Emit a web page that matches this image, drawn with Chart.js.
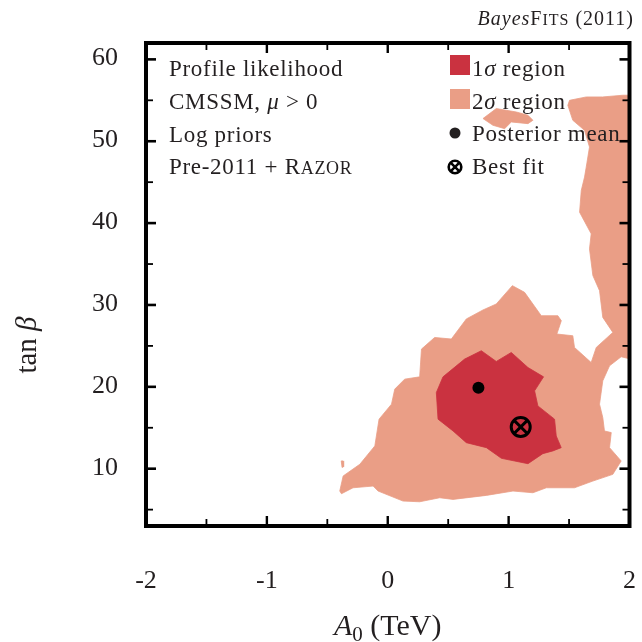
<!DOCTYPE html>
<html><head><meta charset="utf-8">
<script src="https://cdn.jsdelivr.net/npm/chart.js@4.4.0/dist/chart.umd.min.js"></script>
<style>html,body{margin:0;padding:0;background:#fff}#wrap{width:642px;height:642px}</style>
</head><body><div id="wrap"><canvas id="c" width="642" height="642"></canvas></div>
<script>
// ---- axis ticks ----
const xTickValues = [-2, -1, 0, 1, 2];
const xTickLabels = ['-2', '-1', '0', '1', '2'];
const xMinorTicks = [-1.5, -0.5, 0.5, 1.5];
const yTickValues = [10, 20, 30, 40, 50, 60];
const yTickLabels = ['10', '20', '30', '40', '50', '60'];
const yMinorTicks = [5, 15, 25, 35, 45, 55];

// ---- contour regions [A0 (TeV), tan beta] ----
const sigma2Main = [
  [-0.383,6.94],[-0.397,7.27],[-0.369,9.11],[-0.231,10.54],[-0.107,12.78],[-0.072,16.05],
  [0.031,17.88],[0.058,19.72],[0.140,20.94],[0.264,21.22],[0.279,24.61],[0.388,26.03],
  [0.526,25.84],[0.650,28.29],[0.788,29.39],[0.898,30.12],[1.031,32.36],[1.132,31.54],
  [1.270,28.69],[1.407,28.69],[1.436,28.08],[1.399,26.45],[1.531,26.24],[1.545,24.81],
  [1.683,22.97],[1.725,24.81],[1.862,26.65],[1.779,28.48],[1.752,31.75],[1.697,33.59],
  [1.669,36.85],[1.683,38.69],[1.587,41.33],[1.601,43.99],[1.628,45.62],[1.642,46.84],
  [1.669,49.29],[1.628,51.33],[1.531,52.56],[1.490,54.39],[1.504,55.00],[1.642,55.41],
  [1.777,55.41],[1.945,55.62],[2.000,55.62],[2.000,23.43],[1.931,23.67],[1.835,22.57],
  [1.779,20.73],[1.752,17.88],[1.779,16.24],[1.793,14.61],[1.849,14.41],[1.835,12.57],
  [1.931,10.94],[1.862,9.31],[1.697,8.49],[1.545,7.67],[1.312,7.67],[1.201,7.06],
  [1.036,7.27],[0.816,6.74],[0.540,6.25],[0.430,6.45],[0.264,5.96],[0.126,6.05],
  [-0.080,7.27],[-0.121,7.88],[-0.287,7.67],[-0.383,6.94]
];
const sigma2Island = [
  [0.788,52.77],[0.898,53.99],[1.064,53.57],[1.160,53.17],[1.201,52.56],[1.160,52.15],
  [1.022,52.35],[0.967,51.54],[0.870,51.95],[0.788,52.77]
];
const sigma2Sliver = [
  [-0.385,10.95],[-0.370,10.95],[-0.365,10.25],[-0.378,10.15],[-0.385,10.95]
];
const sigma1Region = [
  [0.774,24.41],[0.898,23.10],[1.022,24.20],[1.160,22.36],[1.289,21.22],[1.215,19.51],
  [1.242,17.67],[1.380,16.05],[1.394,14.00],[1.435,12.57],[1.366,12.17],[1.283,11.84],
  [1.160,10.61],[0.940,11.27],[0.816,12.57],[0.650,13.18],[0.540,14.61],[0.416,16.05],
  [0.402,19.30],[0.457,21.22],[0.636,23.39],[0.774,24.41]
];
const posteriorMean = [[0.75, 19.9]];
const bestFit = [[1.10, 15.1]];

const SIGMA1 = '#CA3240';
const SIGMA2 = '#EA9E86';
const INK = '#231F20';
const F = '"Liberation Serif", "Times New Roman", serif';
const toPts = a => a.map(([x, y]) => ({x, y}));

function region(label, arr, color) {
  return {label, data: toPts(arr), showLine: true, fill: 'shape', tension: 0,
    backgroundColor: color, borderColor: color, borderWidth: 0.8, pointRadius: 0};
}

function drawRuns(ctx, x, y, runs) {
  for (const r of runs) {
    ctx.font = r.font;
    ctx.fillText(r.text, x, y + (r.dy || 0));
    x += ctx.measureText(r.text).width;
  }
}
function runsWidth(ctx, runs) {
  let w = 0;
  for (const r of runs) { ctx.font = r.font; w += ctx.measureText(r.text).width; }
  return w;
}

const decorPlugin = {
  id: 'decor',
  afterDraw(chart) {
    const ctx = chart.ctx;
    const {left, right, top, bottom} = chart.chartArea;
    const xs = chart.scales.x, ys = chart.scales.y;
    ctx.save();
    ctx.strokeStyle = '#000';
    ctx.lineCap = 'butt';
    // ticks (inward, all four sides)
    const tick = (x1, y1, x2, y2, w) => { ctx.lineWidth = w; ctx.beginPath(); ctx.moveTo(x1, y1); ctx.lineTo(x2, y2); ctx.stroke(); };
    xTickValues.forEach(v => { const p = xs.getPixelForValue(v); if (p > left + 2 && p < right - 2) { tick(p, bottom, p, bottom - 10, 2.4); tick(p, top, p, top + 10, 2.4); } });
    xMinorTicks.forEach(v => { const p = xs.getPixelForValue(v); tick(p, bottom, p, bottom - 7, 1.8); tick(p, top, p, top + 7, 1.8); });
    yTickValues.forEach(v => { const p = ys.getPixelForValue(v); tick(left, p, left + 10, p, 2.6); tick(right, p, right - 10, p, 2.6); });
    yMinorTicks.forEach(v => { const p = ys.getPixelForValue(v); tick(left, p, left + 7, p, 1.8); tick(right, p, right - 7, p, 1.8); });
    // frame
    ctx.lineWidth = 4;
    ctx.strokeRect(left, top, right - left, bottom - top);

    ctx.fillStyle = INK;
    ctx.textAlign = 'left';
    ctx.textBaseline = 'alphabetic';
    ctx.letterSpacing = '0.7px';
    // info block
    const fs = 23;
    const n = `${fs}px ${F}`, it = `italic ${fs}px ${F}`, sc = `${Math.round(fs * 0.78)}px ${F}`;
    drawRuns(ctx, left + 23, 76, [{text: 'Profile likelihood', font: n}]);
    drawRuns(ctx, left + 23, 109, [{text: 'CMSSM, ', font: n}, {text: 'μ', font: it}, {text: ' > 0', font: n}]);
    drawRuns(ctx, left + 23, 142, [{text: 'Log priors', font: n}]);
    drawRuns(ctx, left + 23, 174, [{text: 'Pre-2011 + ', font: n}, {text: 'R', font: n}, {text: 'AZOR', font: sc}]);

    // legend
    const lx = 450, tx = 472;
    ctx.fillStyle = SIGMA1; ctx.fillRect(lx, 55, 20, 20);
    ctx.fillStyle = SIGMA2; ctx.fillRect(lx, 89, 20, 20);
    ctx.fillStyle = INK;
    drawRuns(ctx, tx, 76, [{text: '1', font: n}, {text: 'σ', font: it}, {text: ' region', font: n}]);
    drawRuns(ctx, tx, 109, [{text: '2', font: n}, {text: 'σ', font: it}, {text: ' region', font: n}]);
    ctx.beginPath(); ctx.arc(lx + 5, 133, 5.5, 0, Math.PI * 2); ctx.fill();
    drawRuns(ctx, tx, 141, [{text: 'Posterior mean', font: n}]);
    ctx.lineWidth = 2.6; ctx.strokeStyle = '#000';
    ctx.beginPath(); ctx.arc(lx + 5, 167, 6.3, 0, Math.PI * 2); ctx.stroke();
    const d = 4.4;
    ctx.beginPath(); ctx.moveTo(lx + 5 - d, 167 - d); ctx.lineTo(lx + 5 + d, 167 + d);
    ctx.moveTo(lx + 5 - d, 167 + d); ctx.lineTo(lx + 5 + d, 167 - d); ctx.stroke();
    drawRuns(ctx, tx, 174, [{text: 'Best fit', font: n}]);

    // top-right annotation
    ctx.letterSpacing = '1px';
    const t = [{text: 'Bayes', font: `italic 20px ${F}`}, {text: 'F', font: `20px ${F}`}, {text: 'ITS', font: `16px ${F}`}, {text: ' (2011)', font: `20px ${F}`}];
    drawRuns(ctx, 634 - runsWidth(ctx, t), 25, t);

    // x-axis title
    ctx.letterSpacing = '0px';
    const xt = [{text: 'A', font: `italic 30px ${F}`}, {text: '0', font: `21px ${F}`, dy: 6}, {text: ' (TeV)', font: `30px ${F}`}];
    drawRuns(ctx, (left + right) / 2 - runsWidth(ctx, xt) / 2, 635, xt);

    // y-axis title (rotated)
    const yt = [{text: 'tan ', font: `29px ${F}`}, {text: 'β', font: `italic 29px ${F}`}];
    ctx.save();
    ctx.translate(36, 345);
    ctx.rotate(-Math.PI / 2);
    drawRuns(ctx, -runsWidth(ctx, yt) / 2, 0, yt);
    ctx.restore();
    ctx.restore();
  }
};

new Chart(document.getElementById('c').getContext('2d'), {
  type: 'scatter',
  data: {
    datasets: [
      {label: 'Best fit', data: toPts(bestFit), pointStyle: 'circle', pointRadius: 9.5,
        borderColor: '#000', borderWidth: 3, backgroundColor: 'rgba(0,0,0,0)'},
      {label: 'Best fit (cross)', data: toPts(bestFit), pointStyle: 'crossRot', pointRadius: 9,
        borderColor: '#000', borderWidth: 3},
      {label: 'Posterior mean', data: toPts(posteriorMean), pointStyle: 'circle', pointRadius: 6,
        backgroundColor: '#000', borderColor: '#000', borderWidth: 0},
      region('1σ region', sigma1Region, SIGMA1),
      region('2σ region', sigma2Main, SIGMA2),
      region('2σ region (island)', sigma2Island, SIGMA2),
      region('2σ region (sliver)', sigma2Sliver, SIGMA2)
    ]
  },
  options: {
    responsive: false,
    animation: false,
    events: [],
    layout: {padding: {left: 0, right: 12, top: 43, bottom: 0}},
    plugins: {legend: {display: false}, tooltip: {enabled: false}},
    scales: {
      x: {
        type: 'linear', min: -2, max: 2,
        afterBuildTicks: s => { s.ticks = xTickValues.map(v => ({value: v})); },
        afterFit: s => { s.height = 116; s.paddingLeft = 0; s.paddingRight = 0; },
        grid: {display: false, drawTicks: true, tickLength: 38},
        border: {display: false},
        ticks: {
          callback: v => xTickLabels[xTickValues.indexOf(v)],
          font: {family: F, size: 26}, color: INK, padding: 2, maxRotation: 0, autoSkip: false
        }
      },
      y: {
        type: 'linear', min: 3, max: 62,
        afterBuildTicks: s => { s.ticks = yTickValues.map(v => ({value: v})); },
        afterFit: s => { s.width = 146; s.paddingTop = 0; s.paddingBottom = 0; },
        grid: {display: false, drawTicks: true, tickLength: 26},
        border: {display: false},
        ticks: {
          callback: v => yTickLabels[yTickValues.indexOf(v)],
          font: {family: F, size: 26}, color: INK, padding: 2, labelOffset: -1, autoSkip: false
        }
      }
    }
  },
  plugins: [decorPlugin]
});
</script>
</body></html>
